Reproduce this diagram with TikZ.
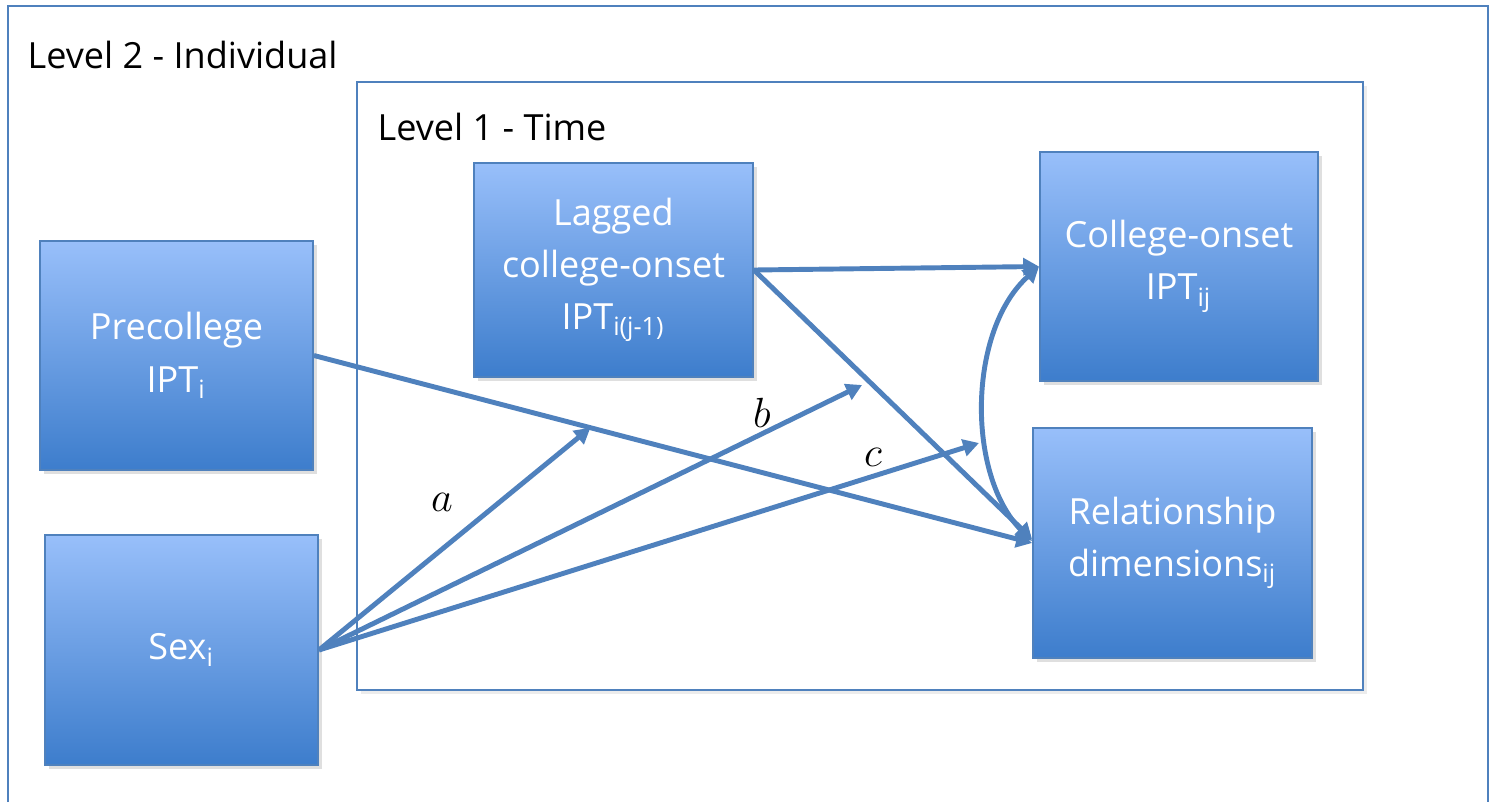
\documentclass[tikz,border=0pt]{standalone}
\usepackage{fontspec}
\setmainfont{Open Sans}
\usetikzlibrary{arrows.meta,shadows,calc}
\definecolor{frameblue}{RGB}{79,129,189}
\definecolor{boxtop}{RGB}{152,191,250}
\definecolor{boxbottom}{RGB}{61,125,204}
\definecolor{pathblue}{RGB}{79,129,189}
\begin{document}
\begin{tikzpicture}[
      x=0.01cm, y=-0.01cm,
      frame/.style={draw=frameblue, line width=0.6pt},
      var/.style={draw=frameblue, line width=0.5pt,
                  top color=boxtop, bottom color=boxbottom,
                  minimum width=2.75cm, minimum height=2.3cm,
                  align=center, text=white,
                  font=\fontsize{10.25}{14.8}\selectfont,
                  drop shadow={shadow xshift=1.2pt, shadow yshift=-1.2pt, opacity=0.25}},
      path/.style={draw=pathblue, line width=1.4pt,
                   -{Triangle[length=4.5pt, width=4.8pt]}},
      coef/.style={font=\fontsize{12.5}{14}\selectfont},
      lvl/.style={anchor=west, inner sep=0pt, font=\fontsize{10.25}{13}\selectfont}
    ]
      \useasboundingbox[fill=white] (0,0) rectangle (1496,802);
      \draw[frame] (8,802) -- (8,6) -- (1488,6) -- (1488,802);
      \node[lvl] (lvltwo) at (27,55) {Level 2 - Individual};
      \draw[frame, fill=white,
            drop shadow={shadow xshift=1pt, shadow yshift=-1pt, opacity=0.15}]
        (357,82) rectangle (1363,690);
      \node[lvl] (lvlone) at (377,127) {Level 1 - Time};

      \node[var, minimum width=2.73cm, minimum height=2.29cm] (prec) at (176.5,355.5) {Precollege\\IPT\textsubscript{i}};
      \node[var, minimum width=2.73cm, minimum height=2.30cm] (sex) at (181.5,650) {Sex\textsubscript{i}};
      \node[var, minimum width=2.79cm, minimum height=2.14cm] (lag) at (613.5,270) {Lagged\\college-onset\\IPT\textsubscript{i(j-1)}};
      \node[var, minimum width=2.78cm, minimum height=2.29cm] (onset) at (1179,266.5) {College-onset\\IPT\textsubscript{ij}};
      \node[var, minimum width=2.79cm, minimum height=2.30cm] (rel) at (1172.5,543) {Relationship\\dimensions\textsubscript{ij}};

      \draw[path] (prec.east) -- (rel.west);
      \draw[path] (lag.east) -- (onset.west);
      \draw[path] (lag.east) -- ($(rel.west)+(0,-4)$);
      \draw[draw=pathblue, line width=1.4pt,
            {Triangle[length=4.5pt, width=4.8pt]}-{Triangle[length=4.5pt, width=4.8pt]}]
        (onset.west) .. controls (968,330) and (966,475) .. ($(rel.west)+(0,-2)$);

      \coordinate (ontoa) at ($(prec.east)!0.385!(rel.west)$);
      \coordinate (ontob) at (862,385);
      \coordinate (ontoc) at (979,443);
      \draw[path] (sex.east) -- (ontoa);
      \draw[path] (sex.east) -- (ontob);
      \draw[path] (sex.east) -- (ontoc);

      \node[coef] (la) at (442,502) {$a$};
      \node[coef] (lb) at (762,413) {$b$};
      \node[coef] (lc) at (873,457) {$c$};
    \end{tikzpicture}
\end{document}
